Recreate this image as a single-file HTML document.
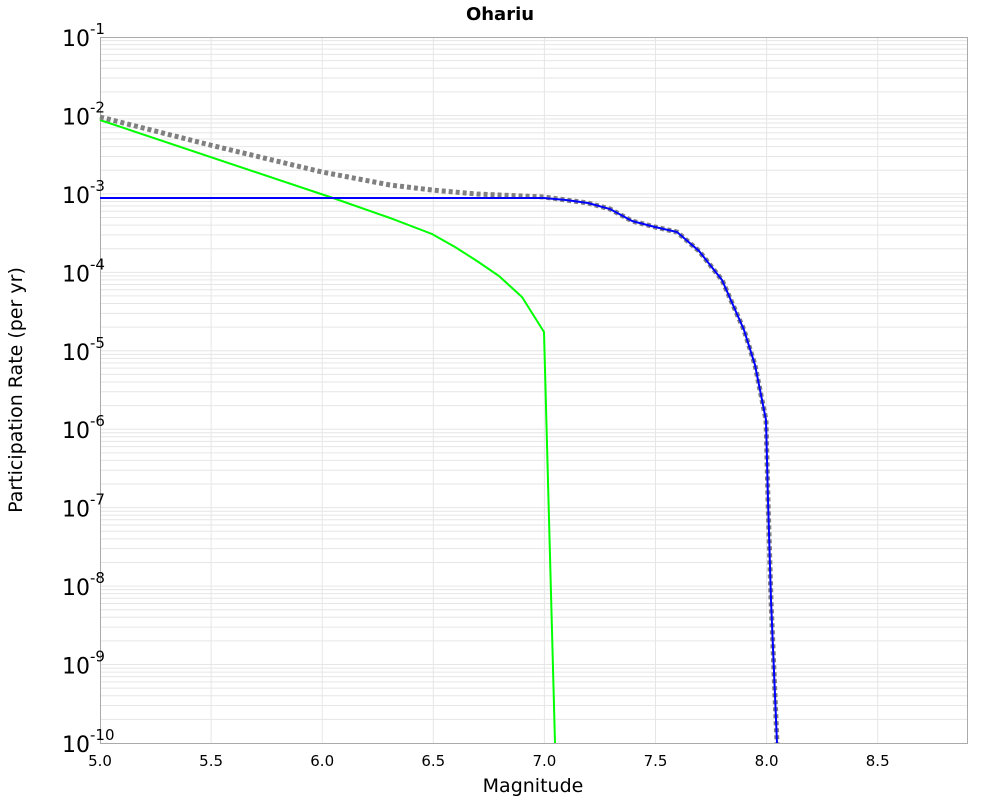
<!DOCTYPE html><html><head><style>body{margin:0;background:#fff}svg{display:block;font-family:"DejaVu Sans","Liberation Sans",sans-serif}</style></head><body>
<svg width="1000" height="800" xmlns="http://www.w3.org/2000/svg">
<rect width="1000" height="800" fill="#fff"/>
<g id="grid" stroke="#e6e6e6" stroke-width="1"></g>
<rect x="100.5" y="37.5" width="867" height="706" fill="none" stroke="#aaa"/>
<polyline fill="none" stroke="#0f0" stroke-width="2" points="100,120 333,198 390,218 432,234 455,247 477,261 499,276 522,297 544,332 555,743"/>
<polyline fill="none" stroke="#808080" stroke-width="5" stroke-dasharray="4,3" points="100,117 210,145 322,172 390,185 432,190 477,194 522,196 544,197 566,200 588,203 610,209 632,221 655,227 677,232 699,251 722,280 744,330 755,365 766,420 768,500 771,600 777,743"/>
<polyline fill="none" stroke="#00f" stroke-width="2" points="100,198 544,198 566,200 588,203 610,209 632,221 655,227 677,232 699,251 722,280 744,330 755,365 766,420 768,500 771,600 777,743"/>
<text x="500" y="20" font-size="18" font-weight="bold" text-anchor="middle">Ohariu</text>
<text x="533" y="792" font-size="19" text-anchor="middle">Magnitude</text>
<text transform="translate(22,390) rotate(-90)" font-size="19" text-anchor="middle">Participation Rate (per yr)</text>
<g id="lab" font-size="15" text-anchor="middle"></g>
<g id="ylab" font-size="22"></g>
</svg>
<script>
var g=document.getElementById('grid'),ns="http://www.w3.org/2000/svg";
function ln(x1,y1,x2,y2){var l=document.createElementNS(ns,'line');l.setAttribute('x1',x1);l.setAttribute('y1',y1);l.setAttribute('x2',x2);l.setAttribute('y2',y2);g.appendChild(l);}
var d=78.44;
for(var k=0;k<9;k++)for(var m=2;m<=9;m++){var y=37+(k+1-Math.log10(m))*d;ln(101,y,967,y);}
for(var k=1;k<9;k++){var y=37+k*d;ln(101,y,967,y);}
var lab=document.getElementById('lab');
for(var i=0;i<8;i++){var x=100+i*111.1;if(i>0)ln(x,38,x,743);var t=document.createElementNS(ns,'text');t.setAttribute('x',x);t.setAttribute('y',766);t.textContent=(5+i*0.5).toFixed(1);lab.appendChild(t);}
var yl=document.getElementById('ylab');
for(var k=0;k<10;k++){var y=37+k*d;var t=document.createElementNS(ns,'text');t.setAttribute('x',62);t.setAttribute('y',y+9);t.innerHTML='10<tspan dy="-12" font-size="15">-'+(k+1)+'</tspan>';yl.appendChild(t);}
</script>
</body></html>
